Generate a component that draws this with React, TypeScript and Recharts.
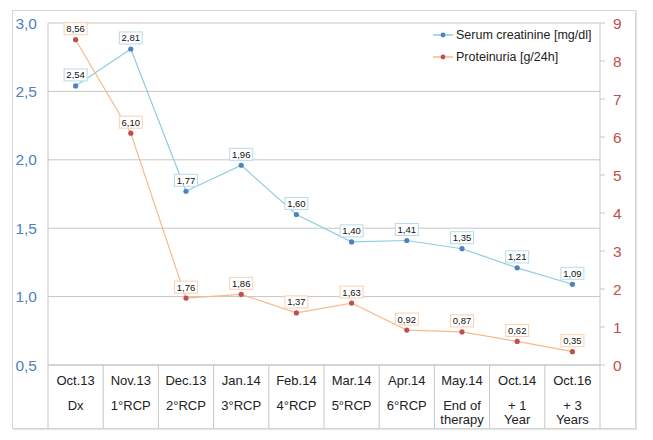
import React from 'react';
import {
  LineChart,
  Line,
  XAxis,
  YAxis,
  CartesianGrid,
  LabelList,
  Legend,
} from 'recharts';

const months = ['Oct.13', 'Nov.13', 'Dec.13', 'Jan.14', 'Feb.14', 'Mar.14', 'Apr.14', 'May.14', 'Oct.14', 'Oct.16'];
const phases = ['Dx', '1°RCP', '2°RCP', '3°RCP', '4°RCP', '5°RCP', '6°RCP', 'End of|therapy', '+ 1|Year', '+ 3|Years'];
const creatinine = [2.54, 2.81, 1.77, 1.96, 1.6, 1.4, 1.41, 1.35, 1.21, 1.09];
const proteinuria = [8.56, 6.1, 1.76, 1.86, 1.37, 1.63, 0.92, 0.87, 0.62, 0.35];
const leftTicks = [0.5, 1, 1.5, 2, 2.5, 3];
const rightTicks = [0, 1, 2, 3, 4, 5, 6, 7, 8, 9];

const data = months.map((m, i) => ({
  month: m,
  phase: phases[i],
  creatinine: creatinine[i],
  proteinuria: proteinuria[i],
}));

const W = 653;
const H = 440;
const PLOT_LEFT = 48;
const PLOT_RIGHT = 600;
const PLOT_TOP = 23;
const PLOT_BOTTOM = 365;
const BAND = (PLOT_RIGHT - PLOT_LEFT) / months.length;
const SEP_BOTTOM = 428;

const BLUE = '#4f81bd';
const BLUE_LINE = '#8fcde0';
const BLUE_BOX = '#b3dde8';
const RED = '#c0504d';
const ORANGE_LINE = '#f9b98a';
const ORANGE_BOX = '#f9cfae';
const GRID = '#c6c6c6';
const FONT = '"Liberation Sans", Arial, Helvetica, sans-serif';

const fmt2 = (v: number) => v.toFixed(2).replace('.', ',');
const fmt1 = (v: number) => v.toFixed(1).replace('.', ',');

const CategoryTick = (props: any) => {
  const { x, index } = props;
  const lines = (phases[index] || '').split('|');
  const last = index === months.length - 1;
  return (
    <g>
      <line x1={x - BAND / 2} x2={x - BAND / 2} y1={PLOT_BOTTOM} y2={SEP_BOTTOM} stroke={GRID} strokeWidth={1} />
      {last && (
        <line x1={x + BAND / 2} x2={x + BAND / 2} y1={PLOT_BOTTOM} y2={SEP_BOTTOM} stroke={GRID} strokeWidth={1} />
      )}
      <text x={x} y={385} textAnchor="middle" fontSize={13} fill="#222" fontFamily={FONT}>
        {months[index]}
      </text>
      {lines.map((l, k) => (
        <text key={k} x={x} y={409.5 + k * 14} textAnchor="middle" fontSize={13} fill="#222" fontFamily={FONT}>
          {l}
        </text>
      ))}
    </g>
  );
};

const makeLabel = (border: string) => (props: any) => {
  const { x, y, value } = props;
  if (x == null || y == null) return null;
  return (
    <g>
      <rect x={x - 11.5} y={y - 17} width={23} height={12} fill="#fff" stroke={border} strokeWidth={1} />
      <text x={x} y={y - 7.5} textAnchor="middle" fontSize={9.5} fill="#111" fontFamily={FONT}>
        {fmt2(value)}
      </text>
    </g>
  );
};

const makeDot = (color: string) => (props: any) => {
  const { cx, cy, index } = props;
  if (cx == null || cy == null) return <g key={index} />;
  return <circle key={index} cx={cx} cy={cy} r={2.6} fill={color} stroke="none" />;
};

const legendItems = [
  { name: 'Serum creatinine [mg/dl]', line: BLUE_LINE, dot: BLUE },
  { name: 'Proteinuria [g/24h]', line: ORANGE_LINE, dot: RED },
];

const LegendContent = () => (
  <div style={{ fontFamily: FONT, fontSize: 12.5, color: '#222' }}>
    {legendItems.map((it) => (
      <div key={it.name} style={{ display: 'flex', alignItems: 'center', height: 22 }}>
        <svg width={22} height={10} style={{ marginRight: 2 }}>
          <line x1={1} x2={21} y1={5} y2={5} stroke={it.line} strokeWidth={1.5} />
          <circle cx={11} cy={5} r={2.4} fill={it.dot} />
        </svg>
        <span>{it.name}</span>
      </div>
    ))}
  </div>
);

export default function App() {
  return (
    <div style={{ position: 'absolute', left: 0, top: 0, width: W, height: H, background: '#fff' }}>
      <div
        style={{
          position: 'absolute',
          left: 12,
          top: 10,
          width: 624,
          height: 419,
          border: '1px solid #d6d6d6',
          boxShadow: '1px 1px 1px #e4e4e4',
          boxSizing: 'border-box',
        }}
      />
      <div style={{ position: 'absolute', left: 0, top: 0 }}>
        <LineChart
          width={W}
          height={H}
          data={data}
          margin={{ top: PLOT_TOP, right: 8, bottom: 10, left: 8 }}
        >
          <CartesianGrid yAxisId="left" vertical={false} stroke={GRID} strokeWidth={1} />
          <XAxis
            dataKey="month"
            scale="point"
            padding={{ left: BAND / 2, right: BAND / 2 }}
            interval={0}
            tickLine={false}
            axisLine={{ stroke: GRID }}
            height={H - PLOT_BOTTOM - 10}
            tick={<CategoryTick />}
          />
          <YAxis
            yAxisId="left"
            orientation="left"
            width={40}
            domain={[0.5, 3]}
            ticks={leftTicks}
            tickFormatter={fmt1}
            tickLine={false}
            tickSize={6}
            tickMargin={5}
            axisLine={{ stroke: GRID }}
            tick={{ fill: BLUE, fontSize: 15.5, fontFamily: FONT }}
            allowDataOverflow
          />
          <YAxis
            yAxisId="right"
            orientation="right"
            width={45}
            domain={[0, 9]}
            ticks={rightTicks}
            tickLine={{ stroke: GRID }}
            tickSize={5}
            tickMargin={8}
            axisLine={{ stroke: GRID }}
            tick={{ fill: RED, fontSize: 15.5, fontFamily: FONT }}
          />
          <Legend
            layout="horizontal"
            verticalAlign="middle"
            align="center"
            content={<LegendContent />}
            wrapperStyle={{ left: 432, top: 24, width: 190, height: 48 }}
          />
          <Line
            yAxisId="left"
            dataKey="creatinine"
            stroke={BLUE_LINE}
            strokeWidth={1.2}
            dot={makeDot(BLUE)}
            activeDot={false}
            isAnimationActive={false}
          >
            <LabelList dataKey="creatinine" content={makeLabel(BLUE_BOX)} />
          </Line>
          <Line
            yAxisId="right"
            dataKey="proteinuria"
            stroke={ORANGE_LINE}
            strokeWidth={1.2}
            dot={makeDot(RED)}
            activeDot={false}
            isAnimationActive={false}
          >
            <LabelList dataKey="proteinuria" content={makeLabel(ORANGE_BOX)} />
          </Line>
        </LineChart>
      </div>
    </div>
  );
}
